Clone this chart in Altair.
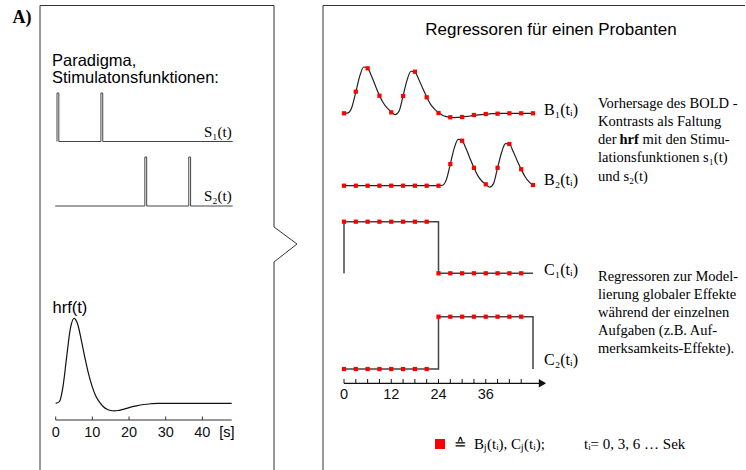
import altair as alt
import pandas as pd

# ---------------- data ----------------
# hemodynamic response function hrf(t), normalised to its peak
hrf_t = [0, 1, 2, 3, 4, 5, 6, 7, 8, 9, 10, 11, 12, 13, 14, 15, 16, 17, 18, 20, 22, 24, 26, 28, 30, 48]
hrf_v = [0, 0.02, 0.2, 0.55, 0.88, 1.0, 0.93, 0.74, 0.53, 0.34, 0.19, 0.08, 0.01, -0.04, -0.07,
         -0.085, -0.09, -0.085, -0.075, -0.05, -0.03, -0.014, -0.005, 0, 0, 0]
hrf_ticks = [0, 10, 20, 30, 40]

# stimulation functions (narrow pulses)
s1_t = [0, 0, 0.5, 0.5, 12, 12, 12.5, 12.5, 48]
s1_v = [0, 1, 1, 0, 0, 1, 1, 0, 0]
s2_t = [-0.5, 24, 24, 24.5, 24.5, 36, 36, 36.5, 36.5, 48]
s2_v = [0, 0, 1, 1, 0, 0, 1, 1, 0, 0]

# predicted BOLD regressors, drawn curve on a 1 s grid
curve_t = list(range(0, 49))
b1_curve = [0, 0.01, 0.13, 0.45, 0.79, 0.985, 0.957, 0.79, 0.58, 0.38, 0.22, 0.11, 0.03,
            -0.03, 0.05, 0.37, 0.70, 0.895, 0.88, 0.72, 0.53, 0.35, 0.19, 0.09, 0.016,
            -0.04, -0.07, -0.083, -0.09, -0.085, -0.078, -0.068, -0.058, -0.046, -0.035,
            -0.027, -0.02, -0.012, -0.008, -0.005, -0.002, 0, 0, 0, 0, 0, 0, 0, 0]
b2_curve = [0] * 25 + [0.01, 0.13, 0.46, 0.80, 0.985, 0.957, 0.79, 0.58, 0.38, 0.21, 0.10,
                       0.03, -0.03, 0.05, 0.38, 0.70, 0.895, 0.887, 0.72, 0.53, 0.35, 0.19,
                       0.08, 0.015]

# sampled regressors (red squares), t_i = 0, 3, 6 ... s
b_t = list(range(0, 49, 3))
b1_pts = [0, 0.46, 0.957, 0.374, 0.02, 0.368, 0.885, 0.34, 0.006, -0.085, -0.079,
          -0.036, -0.015, -0.008, 0, 0, 0]
b2_pts = [0, 0, 0, 0, 0, 0, 0, 0, 0, 0.46, 0.957, 0.38, 0.03, 0.38, 0.887, 0.35, 0.015]

c_t = list(range(0, 46, 3))
c1_pts = [1] * 8 + [0] * 8
c2_pts = [0] * 8 + [1] * 8
c1_line_t = [0, 0, 24, 24, 48]
c1_line_v = [0, 1, 1, 0, 0]
c2_line_t = [0, 24, 24, 48, 48]
c2_line_v = [0, 0, 1, 1, 0]

c_ticks = list(range(0, 46, 3))
c_labels = [0, 12, 24, 36]

# ---------------- helpers ----------------
SANS = "Liberation Sans, Arial, sans-serif"
SERIF = "Liberation Serif, Times New Roman, serif"
one = pd.DataFrame({"k": [0]})


def df(t, v):
    return pd.DataFrame({"t": t, "v": v, "i": list(range(len(t)))})


def sx(r0, r1, d0=0, d1=48):
    return alt.Scale(domain=[d0, d1], range=[r0, r1], nice=False, zero=False)


def sy(r0, r1):
    return alt.Scale(domain=[0, 1], range=[r0, r1], nice=False, zero=False)


def txt(s, x, y, size, font=SERIF, weight="normal", align="left"):
    return alt.Chart(one).mark_text(
        text=s, font=font, fontSize=size, fontWeight=weight, align=align,
        baseline="alphabetic", color="black"
    ).encode(x=alt.value(x), y=alt.value(y))


def seg(x1, y1, x2, y2, color="#333333", w=1):
    return alt.Chart(one).mark_rule(color=color, strokeWidth=w).encode(
        x=alt.value(x1), y=alt.value(y1), x2=alt.value(x2), y2=alt.value(y2))


def line(d, xs, ys, color="#222222", w=1.2, interp="linear"):
    return alt.Chart(d).mark_line(color=color, strokeWidth=w, interpolate=interp).encode(
        x=alt.X("t:Q", scale=xs, axis=None),
        y=alt.Y("v:Q", scale=ys, axis=None),
        order="i:Q")


def pts(d, xs, ys):
    return alt.Chart(d).mark_square(size=18, color="#ff0000", opacity=1).encode(
        x=alt.X("t:Q", scale=xs, axis=None),
        y=alt.Y("v:Q", scale=ys, axis=None))


layers = []

# ---------------- frames ----------------
layers += [
    seg(40, 5.5, 274, 5.5), seg(40, 5.5, 40, 470),
    seg(274, 5.5, 274, 227), seg(274, 227, 297, 244), seg(297, 244, 274, 262),
    seg(274, 262, 274, 470),
    seg(323, 5.5, 745, 5.5), seg(323, 5.5, 323, 470),
]

# ---------------- left panel ----------------
layers += [
    txt("A)", 12.5, 22.5, 18, weight="bold"),
    txt("Paradigma,", 52, 66, 16.5, font=SANS),
    txt("Stimulatonsfunktionen:", 52, 82.5, 16.5, font=SANS),
    txt("S\u2081(t)", 204, 137, 15),
    txt("S\u2082(t)", 204, 200.5, 15),
    txt("hrf(t)", 52.5, 312.5, 16.5, font=SANS),
]

xS = sx(57, 232.7)
layers.append(line(df(s1_t, s1_v), xS, sy(141.5, 93), color="#444444", w=1))
layers.append(line(df(s2_t, s2_v), xS, sy(206, 157), color="#444444", w=1))

xH = sx(55.7, 231.7)
hrf_group = alt.layer(
    line(df(hrf_t, hrf_v), xH, sy(403.3, 318.3), color="#111111", w=1.2, interp="monotone"),
    alt.Chart(one).mark_rule(color="#333333", strokeWidth=1).encode(
        x=alt.datum(0, scale=xH, axis=None), x2=alt.datum(48), y=alt.value(420)),
    alt.Chart(pd.DataFrame({"t": hrf_ticks})).mark_rule(color="#333333", strokeWidth=1).encode(
        x=alt.X("t:Q", scale=xH, axis=None), y=alt.value(420), y2=alt.value(416.5)),
    alt.Chart(pd.DataFrame({"t": hrf_ticks, "lab": [str(v) for v in hrf_ticks]})).mark_text(
        font=SANS, fontSize=14.5, baseline="alphabetic", align="center", color="#111111").encode(
        x=alt.X("t:Q", scale=xH, axis=None), y=alt.value(436.5), text="lab:N"),
)
layers.append(hrf_group)
layers.append(txt("[s]", 227, 436.5, 14.5, font=SANS, align="center"))

# ---------------- right panel ----------------
layers.append(txt("Regressoren f\u00fcr einen Probanten", 551, 35, 17, font=SANS, align="center"))

xR = sx(344, 533)
layers.append(alt.layer(line(df(curve_t, b1_curve), xR, sy(113.3, 66.3), interp="monotone"),
                        pts(df(b_t, b1_pts), xR, sy(113.3, 66.3))))
layers.append(alt.layer(line(df(curve_t, b2_curve), xR, sy(185.7, 138.7), interp="monotone"),
                        pts(df(b_t, b2_pts), xR, sy(185.7, 138.7))))
layers.append(alt.layer(line(df(c1_line_t, c1_line_v), xR, sy(273.3, 221.7), color="#444444", w=1.5),
                        pts(df(c_t, c1_pts), xR, sy(273.3, 221.7))))
layers.append(alt.layer(line(df(c2_line_t, c2_line_v), xR, sy(369, 316.7), color="#444444", w=1.5),
                        pts(df(c_t, c2_pts), xR, sy(369, 316.7))))

# time axis with arrow
c_axis = alt.layer(
    alt.Chart(one).mark_rule(color="#111111", strokeWidth=1.2).encode(
        x=alt.datum(0, scale=xR, axis=None), x2=alt.datum(50), y=alt.value(383.3)),
    alt.Chart(pd.DataFrame({"t": c_ticks})).mark_rule(color="#111111", strokeWidth=1).encode(
        x=alt.X("t:Q", scale=xR, axis=None), y=alt.value(383.3), y2=alt.value(379)),
    alt.Chart(one).mark_point(shape="triangle-right", filled=True, size=70, color="#111111",
                              opacity=1).encode(
        x=alt.datum(50.4, scale=xR, axis=None), y=alt.value(383.3)),
    alt.Chart(pd.DataFrame({"t": c_labels, "lab": [str(v) for v in c_labels]})).mark_text(
        font=SANS, fontSize=14.5, baseline="alphabetic", align="center", color="#111111").encode(
        x=alt.X("t:Q", scale=xR, axis=None), y=alt.value(399.3), text="lab:N"),
)
layers.append(c_axis)

layers += [
    txt("B\u2081(t\u1d62)", 544, 115, 16),
    txt("B\u2082(t\u1d62)", 544, 185, 16),
    txt("C\u2081(t\u1d62)", 544, 275, 16),
    txt("C\u2082(t\u1d62)", 544, 365, 16),
]

# descriptive text
layers += [
    txt("Vorhersage des BOLD -", 598, 108, 14.5),
    txt("Kontrasts  als Faltung", 598, 126, 14.5),
    txt("der", 598, 144, 14.5),
    txt("hrf", 619.5, 144, 14.5, weight="bold"),
    txt("mit den Stimu-", 642.5, 144, 14.5),
    txt("lationsfunktionen s\u2081(t)", 598, 162, 14.5),
    txt("und s\u2082(t)", 598, 181, 14.5),
    txt("Regressoren zur Model-", 598, 281, 14.5),
    txt("lierung globaler Effekte", 598, 299, 14.5),
    txt("w\u00e4hrend der einzelnen", 598, 317, 14.5),
    txt("Aufgaben (z.B. Auf-", 598, 335, 14.5),
    txt("merksamkeits-Effekte).", 598, 353, 14.5),
]

# legend line at the bottom
layers += [
    alt.Chart(one).mark_square(size=100, color="#ff0000", opacity=1).encode(
        x=alt.value(440), y=alt.value(444)),
    txt("\u2259", 460, 449, 15, align="center"),
    txt("B\u2c7c(t\u1d62), C\u2c7c(t\u1d62);", 474, 449, 15),
    txt("t\u1d62= 0, 3, 6 \u2026 Sek", 584, 449, 15),
]

chart = alt.layer(*layers).resolve_scale(x="independent", y="independent").properties(
    width=746, height=470, padding=0, autosize="none"
).configure_view(stroke=None)

chart.save("out.html", embed_options={"renderer": "svg", "actions": False})
